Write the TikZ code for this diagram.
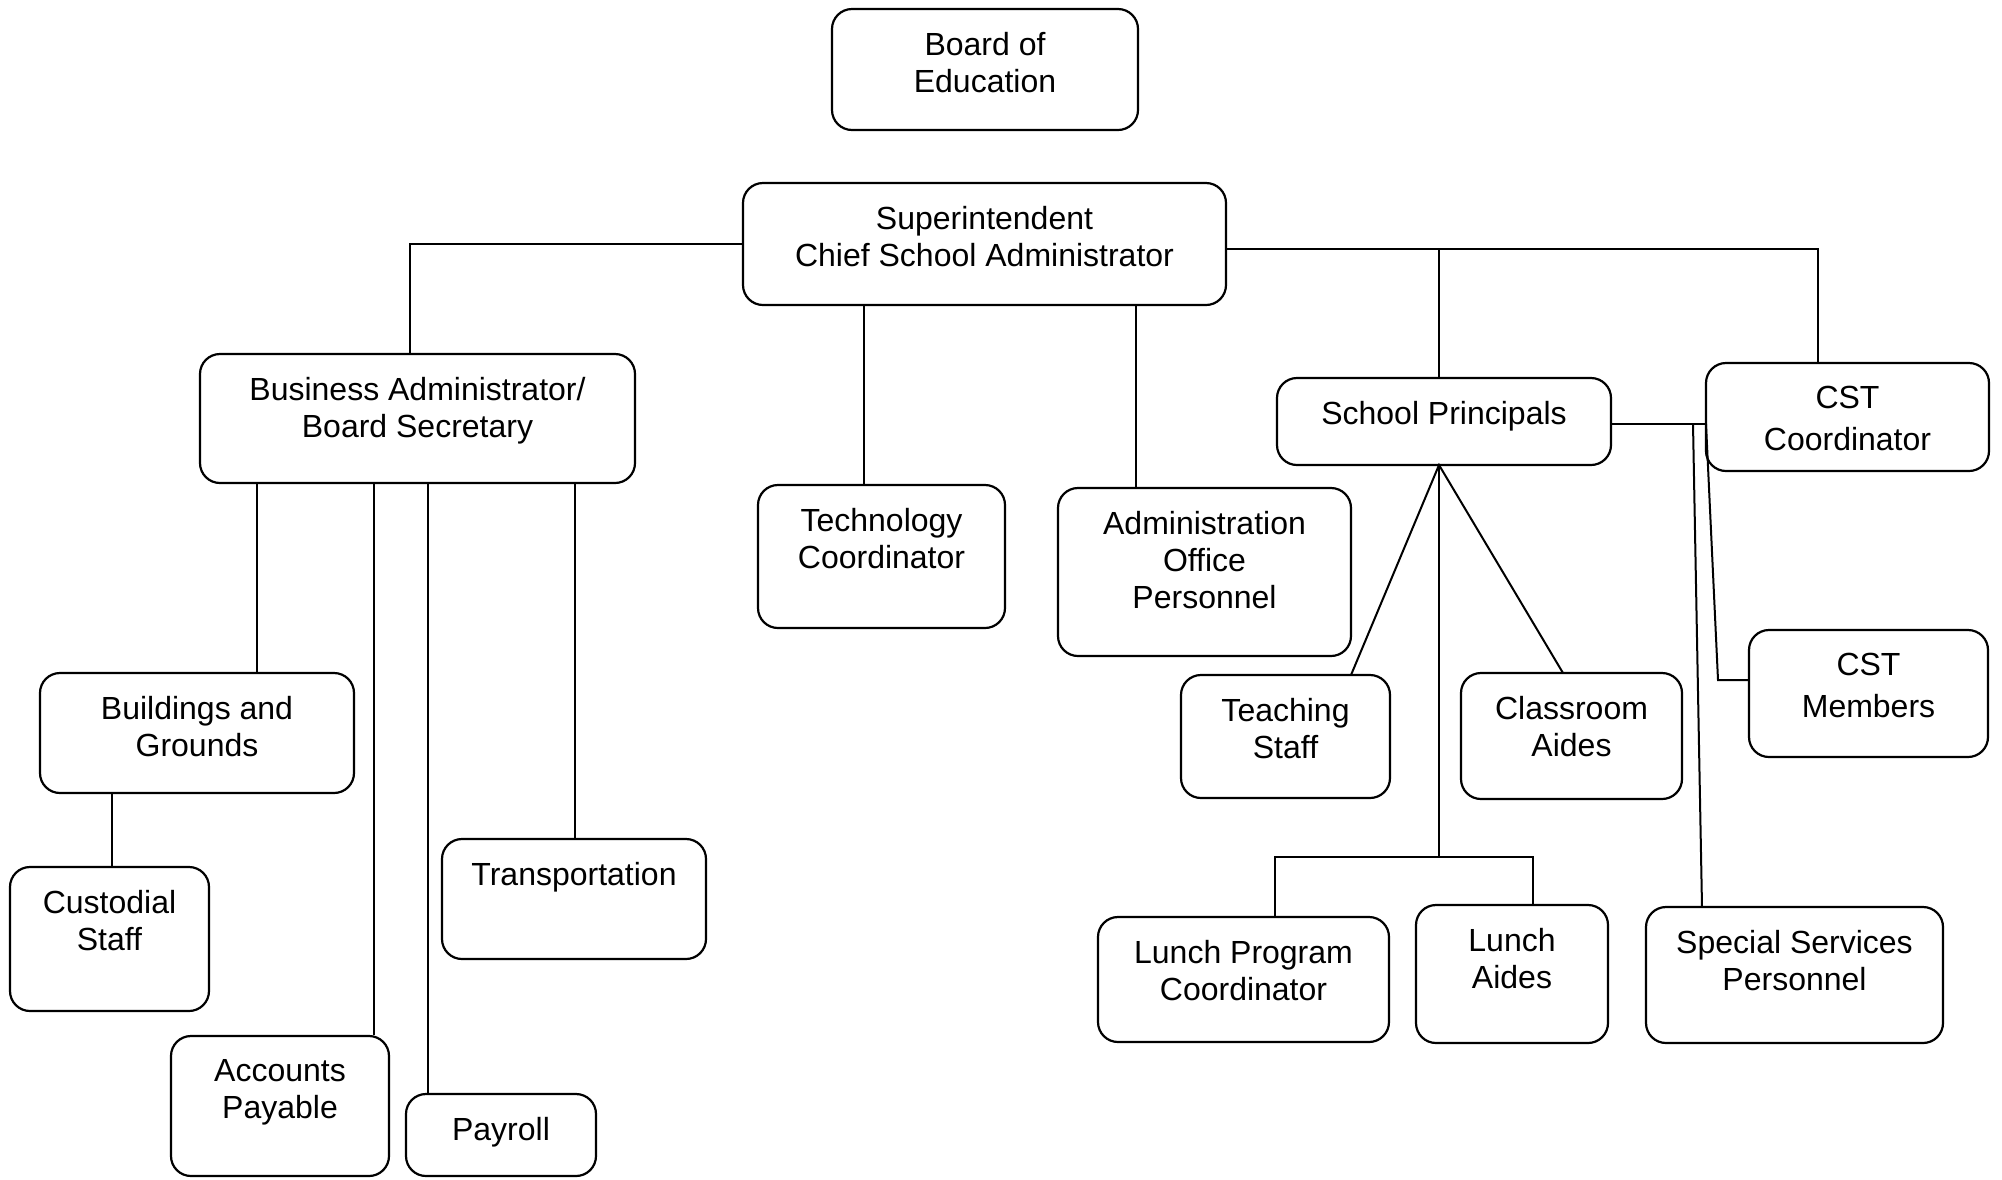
\documentclass[tikz,border=0pt]{standalone}
\usepackage{fontspec}
\setmainfont{Liberation Sans}
\usetikzlibrary{fit,calc}
\tikzset{
  box/.style={draw, rectangle, rounded corners=20pt, line width=2.2pt, inner sep=0pt},
  lbl/.style={anchor=north, align=center, inner sep=0pt, font=\fontsize{32}{37}\selectfont},
  conn/.style={line width=2pt}
}
\newcommand\orgbox[6]{%
  \node[box, fit={(#2,#3) (#4,#5)}] (#1) {};
  \node[lbl] (#1-t) at ([yshift=-24pt]#1.north) {#6};
}
\begin{document}
\begin{tikzpicture}[x=1pt, y=-1pt]
\useasboundingbox[fill=white] (0,0) rectangle (2002,1179);
% boxes
\orgbox{bd}{832}{9}{1138}{130}{Board of\\Education}
\orgbox{sup}{743}{183}{1226}{305}{Superintendent\\Chief School Administrator}
\orgbox{bus}{200}{354}{635}{483}{Business Administrator/\\Board Secretary}
\orgbox{tech}{758}{485}{1005}{628}{Technology\\Coordinator}
\orgbox{adm}{1058}{488}{1351}{656}{Administration\\Office\\Personnel}
\orgbox{sp}{1277}{378}{1611}{465}{School Principals}
\orgbox{cstc}{1706}{363}{1989}{471}{CST\\[5pt]Coordinator}
\orgbox{bg}{40}{673}{354}{793}{Buildings and\\Grounds}
\orgbox{cus}{10}{867}{209}{1011}{Custodial\\Staff}
\orgbox{tr}{442}{839}{706}{959}{Transportation}
\orgbox{ap}{171}{1036}{389}{1176}{Accounts\\Payable}
\orgbox{pr}{406}{1094}{596}{1176}{Payroll}
\orgbox{ts}{1181}{675}{1390}{798}{Teaching\\Staff}
\orgbox{ca}{1461}{673}{1682}{799}{Classroom\\Aides}
\orgbox{cstm}{1749}{630}{1988}{757}{CST\\[5pt]Members}
\orgbox{lp}{1098}{917}{1389}{1042}{Lunch Program\\Coordinator}
\orgbox{la}{1416}{905}{1608}{1043}{Lunch\\Aides}
\orgbox{ssp}{1646}{907}{1943}{1043}{Special Services\\Personnel}
% junction coordinates
\coordinate (jb) at (410,244);
\coordinate (jr) at (1818,249);
\coordinate (jsp) at (1439,249);
\coordinate (xt) at (864,400);
\coordinate (xa) at (1136,400);
\coordinate (xb1) at (257,500);
\coordinate (xap) at (374,500);
\coordinate (xpr) at (428,500);
\coordinate (xtr) at (575,500);
\coordinate (xcu) at (112,800);
\coordinate (spb) at (1439,465);
\coordinate (tsj) at (1351,675);
\coordinate (caj) at (1563,673);
\coordinate (lj) at (1439,857);
\coordinate (lpj) at (1275,857);
\coordinate (laj) at (1533,857);
\coordinate (cy) at (1650,424);
\coordinate (c1) at (1693,424);
\coordinate (c1b) at (1702,907);
\coordinate (c2) at (1706,424);
\coordinate (c2b) at (1718,680);
% connectors
\draw[conn] (sup.west |- jb) -- (jb) -- (jb |- bus.north);
\draw[conn] (sup.east |- jr) -- (jr) -- (jr |- cstc.north);
\draw[conn] (jsp) -- (jsp |- sp.north);
\draw[conn] (sup.south -| xt) -- (tech.north -| xt);
\draw[conn] (sup.south -| xa) -- (adm.north -| xa);
\draw[conn] (bus.south -| xb1) -- (bg.north -| xb1);
\draw[conn] (bus.south -| xap) -- (ap.north -| xap);
\draw[conn] (bus.south -| xpr) -- (pr.north -| xpr);
\draw[conn] (bus.south -| xtr) -- (tr.north -| xtr);
\draw[conn] (bg.south -| xcu) -- (cus.north -| xcu);
\draw[conn] (tsj) -- (spb) -- (caj);
\draw[conn] (spb) -- (lj);
\draw[conn] (lp.north -| lpj) -- (lpj) -- (laj) -- (la.north -| laj);
\draw[conn] (sp.east |- cy) -- (cstc.west |- cy);
\draw[conn] (c1) -- (c1b);
\draw[conn] (c2) -- (c2b) -- (cstm.west |- c2b);
\end{tikzpicture}
\end{document}
